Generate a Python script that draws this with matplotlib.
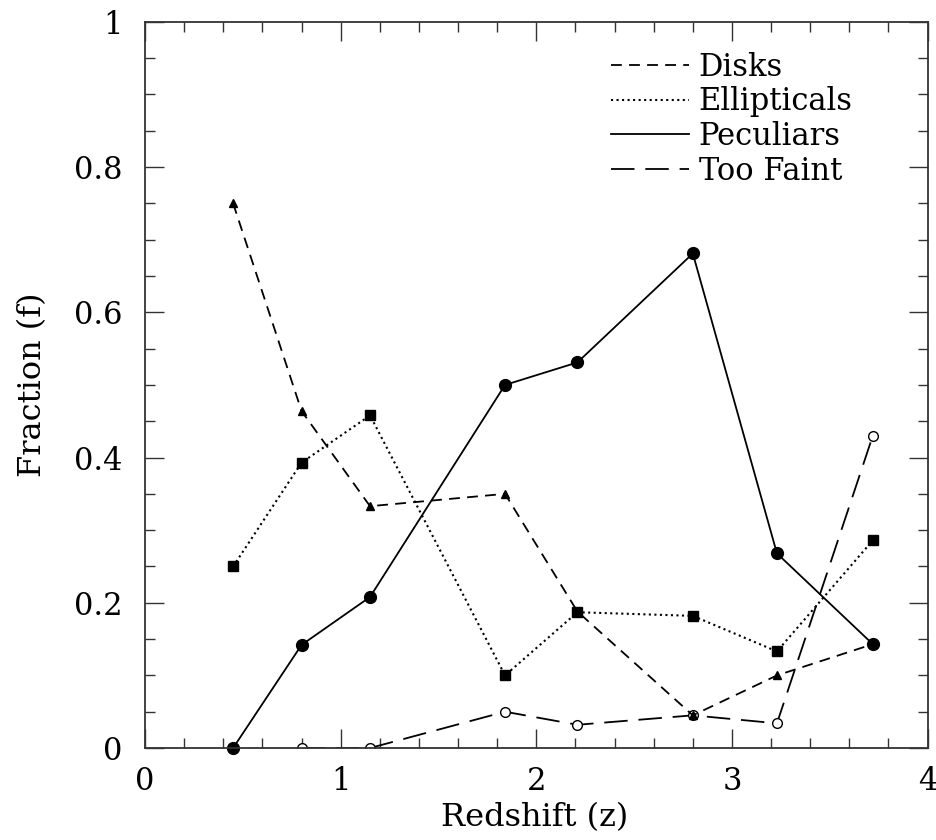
import matplotlib
matplotlib.use('Agg')
import matplotlib.pyplot as plt
from matplotlib.ticker import MultipleLocator
from matplotlib.lines import Line2D

plt.rcParams['font.family'] = 'DejaVu Serif'

z = [0.45, 0.80, 1.15, 1.84, 2.21, 2.80, 3.23, 3.72]
disks = [0.75, 0.464, 0.333, 0.35, 0.188, 0.045, 0.10, 0.143]
ellipticals = [0.25, 0.393, 0.458, 0.10, 0.187, 0.182, 0.133, 0.286]
peculiars = [0.0, 0.142, 0.208, 0.50, 0.531, 0.681, 0.268, 0.143]
z_faint = [0.80, 1.15, 1.84, 2.21, 2.80, 3.23, 3.72]
too_faint = [0.0, 0.0, 0.05, 0.032, 0.045, 0.034, 0.43]
names = ['Disks', 'Ellipticals', 'Peculiars', 'Too Faint']

fs = 22
fig = plt.figure(figsize=(9.36, 8.4), dpi=100)
ax = fig.add_axes([0.155, 0.1095, 0.836, 0.8645])

ax.plot(z_faint, too_faint, color='black', lw=1.3, dashes=(13, 6),
        marker='o', mfc='white', mec='black', ms=7, mew=1.0)
ax.plot(z, ellipticals, color='black', lw=1.5, linestyle=':',
        marker='s', ms=6.5)
ax.plot(z, disks, color='black', lw=1.3, dashes=(6, 4),
        marker='^', ms=6)
ax.plot(z, peculiars, color='black', lw=1.3, linestyle='-',
        marker='o', ms=8.5, clip_on=False)

ax.set_xlim(0, 4)
ax.set_ylim(0, 1)
ax.xaxis.set_major_locator(MultipleLocator(1))
ax.xaxis.set_minor_locator(MultipleLocator(0.2))
ax.yaxis.set_major_locator(MultipleLocator(0.2))
ax.yaxis.set_minor_locator(MultipleLocator(0.05))
ax.xaxis.set_major_formatter(plt.FuncFormatter(lambda v, p: '%g' % v))
ax.yaxis.set_major_formatter(plt.FuncFormatter(lambda v, p: '%g' % v))
ax.tick_params(which='both', direction='in', top=True, right=True,
               labelsize=fs, width=1.0, color='#333333')
ax.tick_params(which='major', length=14)
ax.tick_params(which='minor', length=7)
ax.tick_params(axis='x', which='major', pad=13)
ax.tick_params(axis='y', which='major', pad=16)
for s in ax.spines.values():
    s.set_linewidth(1.3)
    s.set_color('#333333')

ax.set_xlabel('Redshift (z)', fontsize=fs + 1)
ax.set_ylabel('Fraction (f)', fontsize=fs + 1)
ax.xaxis.set_label_coords(0.498, -0.075)
ax.yaxis.set_label_coords(-0.124, 0.5)

handles = [
    Line2D([], [], color='black', lw=1.3, dashes=(6, 4)),
    Line2D([], [], color='black', lw=1.5, linestyle=':'),
    Line2D([], [], color='black', lw=1.3, linestyle='-'),
    Line2D([], [], color='black', lw=1.3, dashes=(13, 6)),
]
ax.legend(handles, names, loc='upper left', frameon=False, fontsize=fs,
          handlelength=2.55, handletextpad=0.3, labelspacing=0.12,
          borderaxespad=0, borderpad=0, bbox_to_anchor=(0.596, 0.959))

fig.savefig('out.png', dpi=100)
